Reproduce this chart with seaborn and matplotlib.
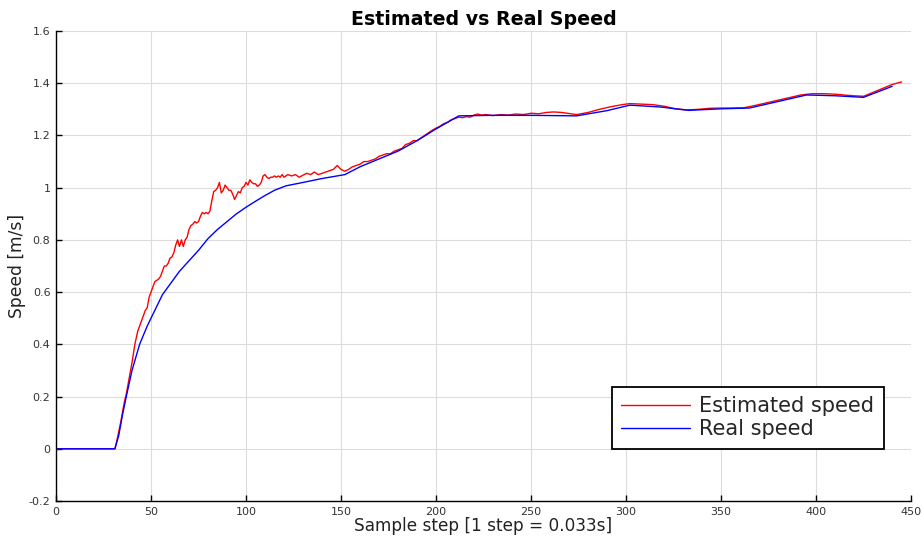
import pandas as pd
import numpy as np
from matplotlib import pyplot as plt
import seaborn as sns

# estimated speed (red)
est_step = [0, 31, 32, 34, 36, 37, 38, 40, 41.5, 43, 45, 47, 48, 49, 50, 51, 52, 54, 55, 56, 57, 58, 59, 60,
            61, 62, 63, 64, 65, 66, 67, 68, 69, 70, 71, 72, 73, 74, 75, 76, 77, 78, 79, 80, 81, 82, 83, 84, 85,
            86, 87, 88, 89, 90, 91, 92, 93, 94, 95, 96, 97, 98, 99, 100, 101, 102, 103, 104, 105, 106, 107, 108,
            109, 110, 111, 112, 113, 114, 115, 116, 117, 118, 119, 120, 122, 124, 126, 128, 130, 132, 134, 136,
            138, 140, 142, 144, 146, 148, 150, 152, 154, 156, 158, 160, 162, 164, 166, 168, 170, 172, 174, 176,
            178, 180, 182, 184, 186, 188, 190, 192, 194, 196, 198, 200, 202, 204, 206, 208, 210, 212, 214, 216,
            218, 220, 222, 224, 226, 230, 234, 238, 242, 246, 250, 254, 258, 262, 266, 270, 274, 280, 286, 292,
            298, 302, 308, 314, 320, 326, 332, 338, 344, 350, 356, 362, 368, 374, 380, 386, 392, 398, 404, 410,
            416, 420, 425, 430, 435, 440, 445]
est_speed = [0, 0, 0.03, 0.1, 0.18, 0.21, 0.25, 0.33, 0.4, 0.45, 0.49, 0.53, 0.54, 0.58, 0.6, 0.62, 0.64, 0.65,
             0.66, 0.68, 0.7, 0.7, 0.71, 0.73, 0.735, 0.75, 0.78, 0.8, 0.775, 0.8, 0.775, 0.8, 0.81, 0.84, 0.855,
             0.86, 0.87, 0.865, 0.87, 0.89, 0.905, 0.9, 0.905, 0.9, 0.91, 0.95, 0.985, 0.99, 1.0, 1.02, 0.98, 0.99,
             1.01, 1.0, 0.99, 0.99, 0.975, 0.955, 0.97, 0.985, 0.98, 1.0, 1.005, 1.02, 1.01, 1.03, 1.02, 1.015,
             1.015, 1.005, 1.01, 1.02, 1.045, 1.05, 1.04, 1.035, 1.04, 1.04, 1.045, 1.04, 1.045, 1.04, 1.05, 1.04,
             1.05, 1.045, 1.05, 1.04, 1.048, 1.055, 1.05, 1.06, 1.05, 1.055, 1.06, 1.065, 1.07, 1.085, 1.07, 1.063,
             1.07, 1.08, 1.085, 1.09, 1.1, 1.1, 1.105, 1.11, 1.12, 1.125, 1.13, 1.13, 1.14, 1.145, 1.15, 1.165,
             1.17, 1.18, 1.18, 1.19, 1.2, 1.21, 1.22, 1.228, 1.235, 1.245, 1.25, 1.26, 1.265, 1.27, 1.268, 1.272,
             1.27, 1.278, 1.282, 1.278, 1.28, 1.276, 1.28, 1.278, 1.282, 1.28, 1.285, 1.283, 1.288, 1.29, 1.288,
             1.284, 1.28, 1.288, 1.3, 1.31, 1.318, 1.322, 1.32, 1.318, 1.312, 1.302, 1.298, 1.3, 1.304, 1.305,
             1.305, 1.306, 1.315, 1.325, 1.335, 1.345, 1.355, 1.36, 1.36, 1.358, 1.354, 1.352, 1.35, 1.365, 1.38,
             1.395, 1.405]

# real speed (blue)
real_step = [0, 31, 33, 35, 37, 40, 44, 48, 52, 56, 60, 65, 70, 75, 80, 85, 90, 95, 100, 105, 110, 115, 121,
             130, 140, 152, 160, 170, 180, 190, 200, 206, 212, 230, 250, 274, 290, 302, 318, 333, 350, 365, 380,
             395, 410, 425, 440]
real_speed = [0, 0, 0.05, 0.13, 0.2, 0.3, 0.4, 0.47, 0.53, 0.59, 0.63, 0.68, 0.72, 0.76, 0.805, 0.84, 0.87, 0.9,
              0.925, 0.948, 0.97, 0.99, 1.007, 1.02, 1.035, 1.05, 1.08, 1.11, 1.14, 1.18, 1.225, 1.25, 1.275,
              1.277, 1.277, 1.275, 1.295, 1.316, 1.309, 1.296, 1.302, 1.305, 1.33, 1.355, 1.352, 1.346, 1.388]

sns.set_theme(style="whitegrid")
plt.rcParams['font.family'] = ['DejaVu Sans']

fig = plt.figure(figsize=(9.24, 5.41), dpi=100)
ax = fig.add_axes([0.0606, 0.0739, 0.9254, 0.8688])

sns.lineplot(x=est_step, y=est_speed, color='red', lw=1, label='Estimated speed', ax=ax)
sns.lineplot(x=real_step, y=real_speed, color='blue', lw=1, label='Real speed', ax=ax)

ax.set_xlim(0, 450)
ax.set_ylim(-0.2, 1.6)
ax.set_xticks(np.arange(0, 451, 50))
ax.set_yticks(np.arange(-0.2, 1.61, 0.2))
ax.set_yticklabels(['-0.2', '0', '0.2', '0.4', '0.6', '0.8', '1', '1.2', '1.4', '1.6'])
ax.grid(True, color='#dcdcdc', lw=0.8)
ax.set_facecolor('white')
for s in ['top', 'right']:
    ax.spines[s].set_visible(False)
for s in ['left', 'bottom']:
    ax.spines[s].set_color('black')
    ax.spines[s].set_linewidth(1)
ax.tick_params(direction='in', length=4, width=1, colors='black', labelcolor='#333333', labelsize=8,
               bottom=True, left=True, pad=4)

ax.set_title('Estimated vs Real Speed', fontsize=13.7, fontweight='bold', pad=4, color='black')
ax.set_xlabel('Sample step [1 step = 0.033s]', fontsize=12.2, labelpad=0.5, color='#222222')
ax.set_ylabel('Speed [m/s]', fontsize=12.3, labelpad=2, color='#222222')

leg = ax.legend(loc='lower right', bbox_to_anchor=(0.968, 0.111), fontsize=15, frameon=True,
                fancybox=False, handlelength=3.3, borderaxespad=0, borderpad=0.45,
                labelspacing=0.15, handletextpad=0.45)
leg.get_frame().set_edgecolor('black')
leg.get_frame().set_linewidth(1.3)
leg.get_frame().set_alpha(1)

fig.savefig('out.png', dpi=100)
